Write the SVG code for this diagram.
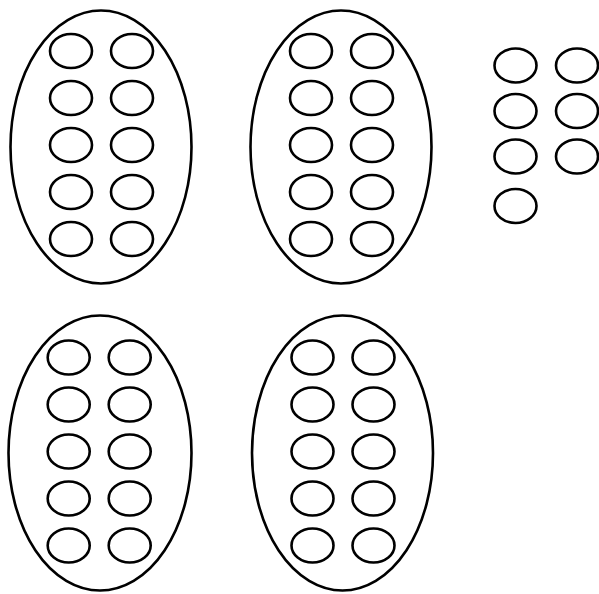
<svg xmlns="http://www.w3.org/2000/svg" width="599" height="594" viewBox="0 0 599 594">
<style>
ellipse{fill:none;stroke:#000;stroke-width:2.6}
</style>
<rect width="599" height="594" fill="#fff"/>
<defs>
<g id="pair"><ellipse cx="0" cy="0" rx="21" ry="17"/><ellipse cx="61" cy="0" rx="21" ry="17"/></g>
<g id="ten"><use href="#pair" y="0"/><use href="#pair" y="47"/><use href="#pair" y="94"/><use href="#pair" y="141"/><use href="#pair" y="188"/></g>
</defs>
<g id="group1">
<ellipse cx="101" cy="147" rx="90.5" ry="136.5"/>
<use href="#ten" x="71" y="51"/>
</g>
<g id="group2">
<ellipse cx="341" cy="147" rx="90.5" ry="136.5"/>
<use href="#ten" x="311" y="51"/>
</g>
<g id="group3">
<ellipse cx="515.5" cy="65.5" rx="21" ry="17"/>
<ellipse cx="577" cy="65.5" rx="21" ry="17"/>
<ellipse cx="515.5" cy="111" rx="21" ry="17"/>
<ellipse cx="577" cy="111" rx="21" ry="17"/>
<ellipse cx="515.5" cy="156.5" rx="21" ry="17"/>
<ellipse cx="577" cy="156.5" rx="21" ry="17"/>
<ellipse cx="515.5" cy="206" rx="21" ry="17"/>
</g>
<g id="group4">
<ellipse cx="100" cy="453" rx="91.5" ry="137.5"/>
<use href="#ten" x="68.7" y="357.5"/>
</g>
<g id="group5">
<ellipse cx="342.5" cy="453" rx="90.5" ry="137.5"/>
<use href="#ten" x="312.5" y="357.5"/>
</g>
<g id="connectors"/>
</svg>
